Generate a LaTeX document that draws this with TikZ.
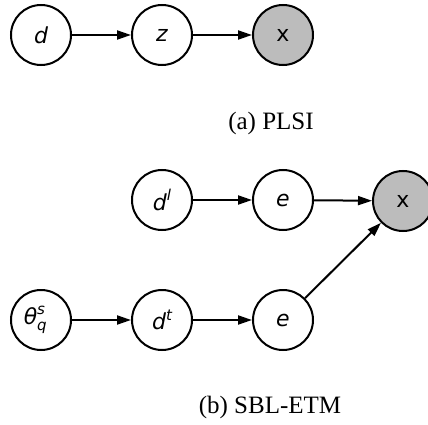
\documentclass[tikz,border=0pt]{standalone}
\usepackage{fontspec}
\setmainfont{Liberation Serif}
\newfontfamily\lblfont{DejaVu Sans}
\usetikzlibrary{arrows.meta}
\definecolor{obsgray}{RGB}{188,188,188}
% sub/superscript helpers for the node labels
\newcommand{\upidx}[1]{\raisebox{0.42em}{\fontsize{15}{15}\selectfont #1}}
\newcommand{\stackidx}[2]{\makebox[0pt][l]{\raisebox{0.42em}{\fontsize{15}{15}\selectfont #1}}\raisebox{-0.28em}{\fontsize{15}{15}\selectfont #2}}
\begin{document}
\begin{tikzpicture}[x=1pt,y=-1pt,
  var/.style={circle,draw=black,line width=2pt,minimum size=60pt,inner sep=0pt,
    fill=white,font=\lblfont\itshape\fontsize{22}{22}\selectfont},
  obs/.style={var,fill=obsgray,font=\lblfont\fontsize{22}{22}\selectfont},
  edge/.style={line width=2pt,-{Triangle[length=14pt,width=9pt]}},
  caption/.style={font=\fontsize{25}{25}\selectfont,anchor=base}]
\useasboundingbox (0,0) rectangle (428,425);

% (a) PLSI
\node[var] (d)  at (41,35)  {d};
\node[var] (z)  at (162,35) {z};
\node[obs] (xa) at (283,35) {x};
\draw[edge] (d) -- (z);
\draw[edge] (z) -- (xa);
\node[caption] (capa) at (271,130) {(a) PLSI};

% (b) SBL-ETM
\node[var] (dl) at (162,200) {d\upidx{l}};
\node[var] (e1) at (283,200) {e};
\node[obs] (xb) at (403,201) {x};
\node[var] (th) at (41,320)  {θ\stackidx{s}{q}\phantom{s}};
\node[var] (dt) at (162,320) {d\upidx{t}};
\node[var] (e2) at (283,320) {e};
\draw[edge] (dl) -- (e1);
\draw[edge] (e1) -- (xb);
\draw[edge] (th) -- (dt);
\draw[edge] (dt) -- (e2);
\draw[edge] (e2) -- (xb);
\node[caption] (capb) at (270,413) {(b) SBL-ETM};
\end{tikzpicture}
\end{document}
